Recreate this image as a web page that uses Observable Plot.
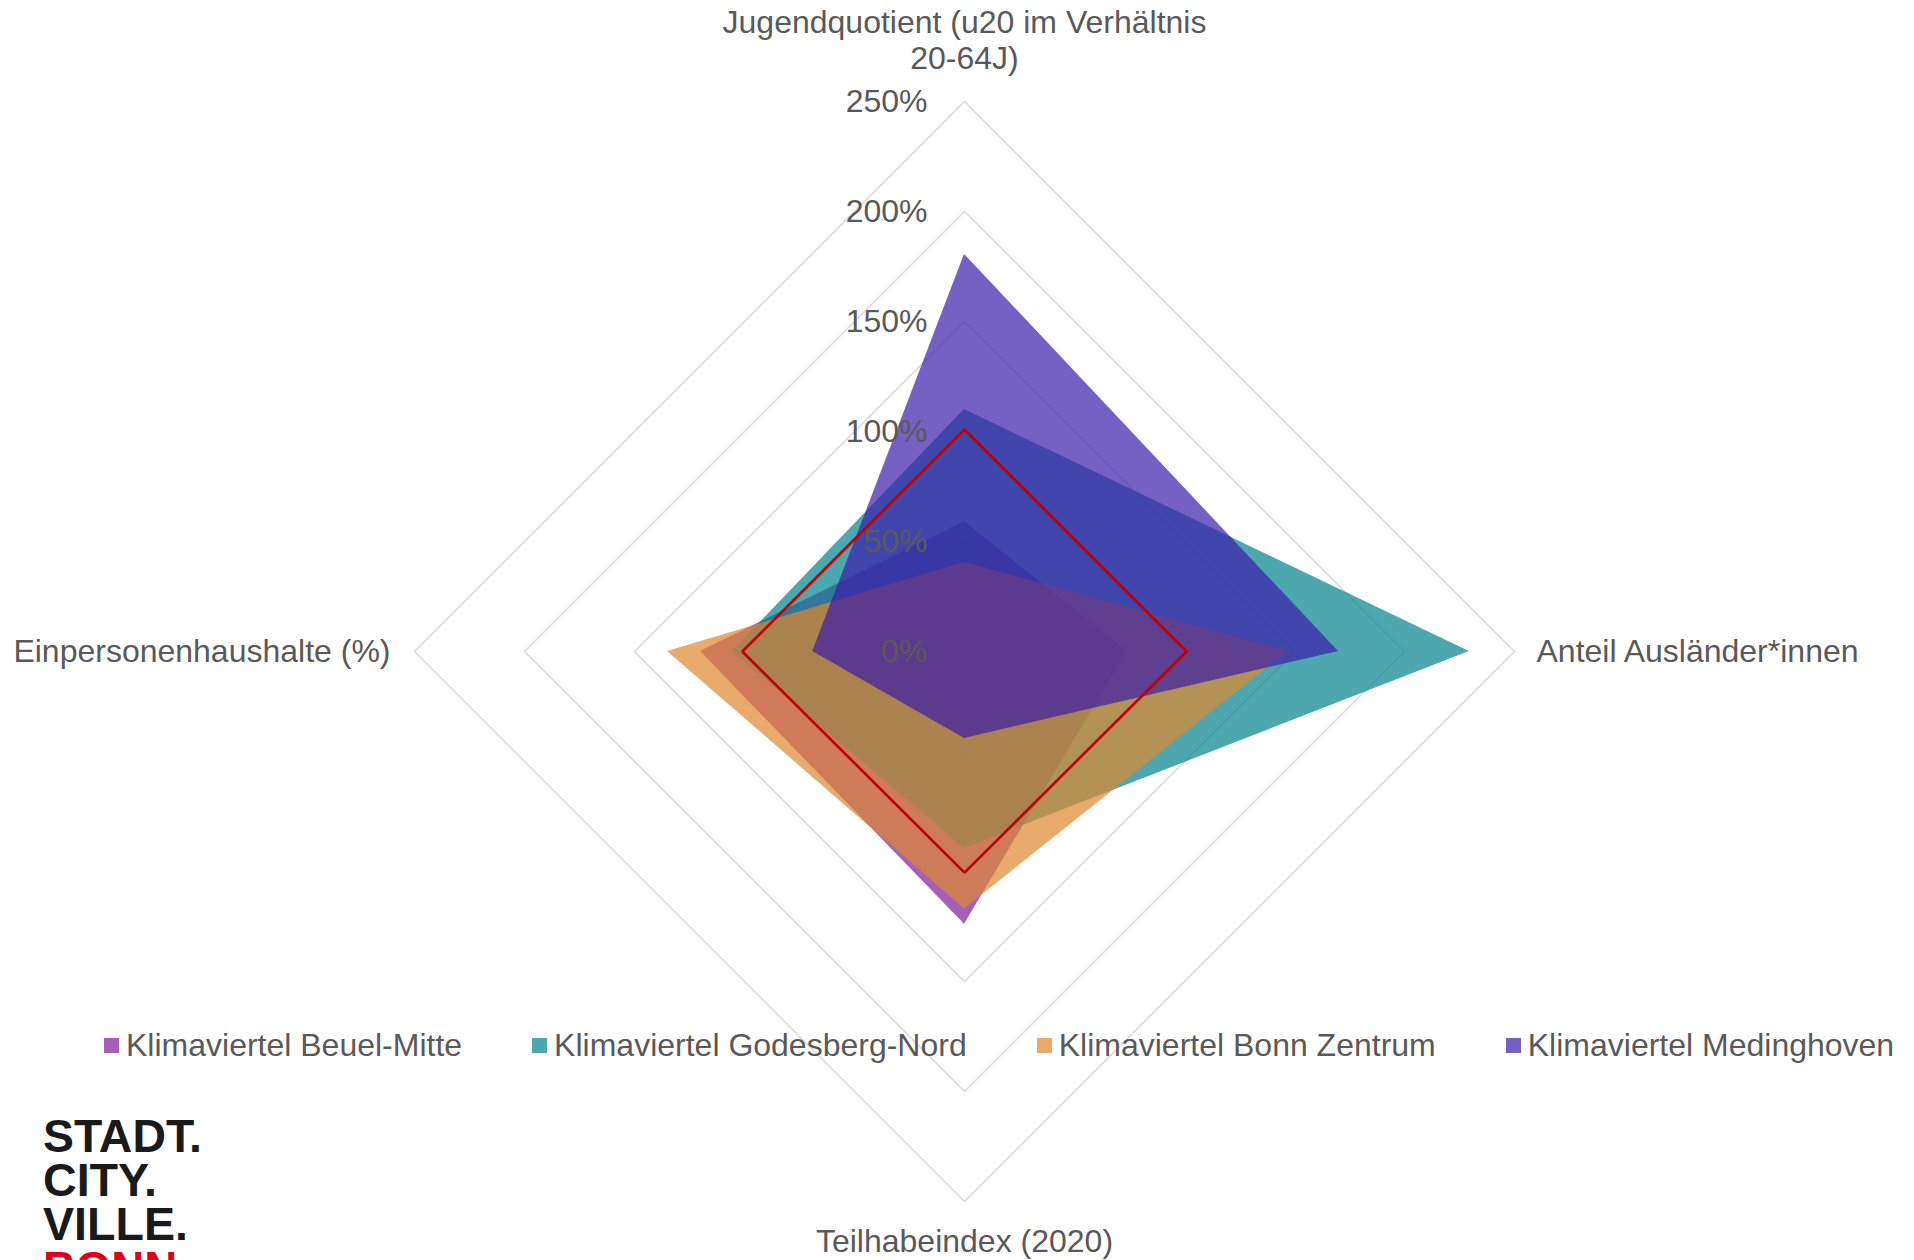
<!DOCTYPE html>
<html>
<head>
<meta charset="utf-8">
<script src="https://cdn.jsdelivr.net/npm/d3@7"></script>
<script src="https://cdn.jsdelivr.net/npm/@observablehq/plot@0.6"></script>
<style>
html, body { margin: 0; padding: 0; background: #fff; }
#wrap { position: relative; width: 1914px; height: 1260px; overflow: hidden; font-family: "Liberation Sans", Arial, sans-serif; }
#chart { position: absolute; left: 0; top: 0; }
#legend { position: absolute; left: 104px; top: 1027px; width: 1810px; white-space: nowrap; }
.lg-swatches { font-family: "Liberation Sans", Arial, sans-serif; font-size: 32px; color: #595959; margin: 0; display: flex; align-items: center; flex-wrap: nowrap; }
.lg-swatch { margin-right: 70px; display: inline-flex; align-items: center; }
.lg-swatch > svg { margin-right: 7px; opacity: 0.7; }
#logo { position: absolute; left: 0; top: 1090px; }
</style>
</head>
<body>
<div id="wrap">
  <div id="chart"></div>
  <div id="legend"></div>
  <svg id="logo" width="300" height="170">
    <g font-family="Liberation Sans, Arial, sans-serif" font-weight="bold" font-size="47">
      <text x="43" y="62" fill="#1a1a1a" textLength="159" lengthAdjust="spacingAndGlyphs">STADT.</text>
      <text x="43" y="106" fill="#1a1a1a" textLength="114" lengthAdjust="spacingAndGlyphs">CITY.</text>
      <text x="43" y="150" fill="#1a1a1a" textLength="145" lengthAdjust="spacingAndGlyphs">VILLE.</text>
      <text x="43" y="194" fill="#E2001A" textLength="134" lengthAdjust="spacingAndGlyphs">BONN</text>
    </g>
  </svg>
</div>
<script>
// ---- data ----
const axes = [
  "Jugendquotient (u20 im Verhältnis\n20-64J)",
  "Anteil Ausländer*innen",
  "Teilhabeindex (2020)",
  "Einpersonenhaushalte (%)"
];
const seriesNames = [
  "Klimaviertel Beuel-Mitte",
  "Klimaviertel Godesberg-Nord",
  "Klimaviertel Bonn Zentrum",
  "Klimaviertel Medinghoven"
];
const beuelMitte    = [59, 74, 124, 120];
const godesbergNord = [110, 229.5, 89.5, 105.5];
const bonnZentrum   = [40.5, 147, 117, 135];
const medinghoven   = [180.5, 170, 39.5, 69];
const stadtBonn     = [101, 101, 100.5, 101];
const tickValues    = [0, 50, 100, 150, 200, 250];
const tickLabels    = ["0%", "50%", "100%", "150%", "200%", "250%"];
const seriesColors  = ["#7E1C9A", "#02818D", "#E0882D", "#3B1CA9"];
const refColor      = "#C00000";

// ---- layout ----
const W = 1914, H = 1260;
const cx = 964, cy = 651, pxPerPct = 2.2;
const maxR = 250;

const angle = i => i * Math.PI / 2; // clockwise from top
const toPts = (values, name) => values.map((v, i) => ({
  name, axis: axes[i], v,
  x: v * Math.sin(angle(i)),
  y: v * Math.cos(angle(i))
}));

const seriesValues = [beuelMitte, godesbergNord, bonnZentrum, medinghoven];
const seriesPts = seriesValues.map((vals, k) => toPts(vals, seriesNames[k]));
const refPts = toPts(stadtBonn, "Stadt Bonn");

const ringPts = tickValues.filter(t => t > 0).flatMap(t =>
  axes.map((a, i) => ({ring: t, x: t * Math.sin(angle(i)), y: t * Math.cos(angle(i))}))
);
const axisEnds = axes.map((a, i) => ({label: a, x: maxR * Math.sin(angle(i)), y: maxR * Math.cos(angle(i))}));
const ticksData = tickValues.map((t, i) => ({v: t, label: tickLabels[i]}));

const font = "Liberation Sans, Arial, sans-serif";
const grey = "#595959";

const plot = Plot.plot({
  width: W,
  height: H,
  margin: 0,
  style: {fontFamily: font, background: "white", overflow: "visible"},
  x: {domain: [-cx / pxPerPct, (W - cx) / pxPerPct], range: [0, W], axis: null},
  y: {domain: [-(H - cy) / pxPerPct, cy / pxPerPct], range: [H, 0], axis: null},
  marks: [
    Plot.line(ringPts, {x: "x", y: "y", z: "ring", curve: "linear-closed", stroke: "#D9D9D9", strokeWidth: 1.5}),
    ...seriesPts.map((pts, k) => Plot.area(pts, {
      x1: "x", y1: "y", x2: 0, y2: 0,
      curve: "linear-closed",
      fill: seriesColors[k], fillOpacity: 0.7, stroke: "none"
    })),
    Plot.line(refPts, {x: "x", y: "y", curve: "linear-closed", stroke: refColor, strokeWidth: 2.6, strokeLinejoin: "miter"}),
    Plot.text(ticksData, {x: 0, y: "v", text: "label", textAnchor: "end", dx: -37, fontSize: 32, fill: grey}),
    Plot.text(axisEnds.slice(0, 1), {x: "x", y: "y", text: "label", fontSize: 32, fill: grey, lineHeight: 1.125, dy: -62}),
    Plot.text(axisEnds.slice(1, 2), {x: "x", y: "y", text: "label", fontSize: 32, fill: grey, textAnchor: "start", dx: 22}),
    Plot.text(axisEnds.slice(2, 3), {x: "x", y: "y", text: "label", fontSize: 32, fill: grey, dy: 40}),
    Plot.text(axisEnds.slice(3, 4), {x: "x", y: "y", text: "label", fontSize: 32, fill: grey, textAnchor: "end", dx: -24})
  ]
});
document.getElementById("chart").appendChild(plot);

const legend = Plot.legend({
  color: {type: "ordinal", domain: seriesNames, range: seriesColors},
  swatchSize: 15,
  className: "lg"
});
document.getElementById("legend").appendChild(legend);
</script>
</body>
</html>
